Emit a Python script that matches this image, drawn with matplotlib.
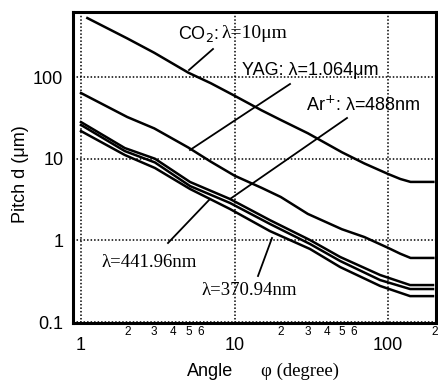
import matplotlib
matplotlib.use("Agg")
import matplotlib.pyplot as plt
from matplotlib.lines import Line2D
from matplotlib.ticker import NullLocator, FixedLocator

# ---------------- data ----------------
co2_angle = [1.1, 2, 3, 5, 7, 10, 15, 20, 30, 50, 70, 100, 120, 140, 197]
co2_pitch = [527, 297, 198, 113, 84, 59, 39.1, 29.8, 20.5, 12.0, 8.75, 6.5, 5.65, 5.2, 5.2]

yag_angle = [1, 2, 3, 5, 7, 10, 15, 20, 30, 50, 70, 100, 120, 140, 197]
yag_pitch = [63.7, 32.4, 23.5, 13.7, 9.2, 6.2, 4.4, 3.4, 2.11, 1.37, 1.10, 0.81, 0.687, 0.61, 0.61]

low_angle = [1, 1.93, 3.03, 5.13, 9.35, 17.0, 31.0, 48.7, 88.7, 139, 196]
ar488_pitch = [28.1, 13.5, 10.0, 5.19, 3.21, 1.77, 1.01, 0.627, 0.377, 0.284, 0.284]
l44196_pitch = [25.9, 12.4, 9.0, 4.63, 2.87, 1.59, 0.904, 0.560, 0.327, 0.254, 0.254]
l37094_pitch = [21.8, 11.1, 7.7, 4.26, 2.42, 1.30, 0.785, 0.472, 0.277, 0.208, 0.208]

x_major = [1, 10, 100]
x_major_labels = ["1", "10", "100"]
x_minor = [2, 3, 4, 5, 6, 20, 30, 40, 50, 60, 200]
x_minor_labels = ["2", "3", "4", "5", "6", "2", "3", "4", "5", "6", "2"]
y_major = [0.1, 1, 10, 100]
y_major_labels = ["0.1", "1", "10", "100"]

# ---------------- figure ----------------
W, H = 439, 381
fig = plt.figure(figsize=(W / 100, H / 100), dpi=100)
ax = fig.add_axes([73 / W, 1 - 323 / H, (436 - 73) / W, (323 - 12) / H])

def P(x, y):
    return (x / W, 1 - y / H)

lw = 1.8
for xs, ys in [(co2_angle, co2_pitch), (yag_angle, yag_pitch),
               (low_angle, ar488_pitch), (low_angle, l44196_pitch),
               (low_angle, l37094_pitch)]:
    ax.plot(xs, ys, color="black", lw=lw, solid_joinstyle="round")

ax.set_xscale("log")
ax.set_yscale("log")
ax.set_xlim(0.887, 205)
ax.set_ylim(0.0975, 625)

sans = "Liberation Sans"
serif = "Liberation Serif"

ax.xaxis.set_major_locator(FixedLocator(x_major))
ax.set_xticklabels(x_major_labels, fontsize=13, family=sans)
ax.xaxis.set_minor_locator(FixedLocator(x_minor))
ax.set_xticklabels(x_minor_labels, minor=True, fontsize=8.5, family=sans)
ax.yaxis.set_major_locator(FixedLocator(y_major))
ax.set_yticklabels(y_major_labels, fontsize=13, family=sans)
ax.yaxis.set_minor_locator(NullLocator())

ax.tick_params(axis="x", which="major", length=0, pad=10)
ax.tick_params(axis="x", which="minor", length=0, pad=2)
ax.tick_params(axis="y", which="major", length=0, pad=7)

ax.grid(True, which="major", color="black", lw=1.1, linestyle=(0, (1, 1.3)))
for s in ax.spines.values():
    s.set_linewidth(2.2)

# axis labels
fig.text(*P(21, 174), "Pitch d (\u03bcm)", rotation=90, ha="center", va="center",
         fontsize=13, family=sans)
fig.text(*P(187, 371), "Angle", ha="left", va="center", fontsize=13, family=sans)
fig.text(*P(261, 371), "\u03c6 (degree)", ha="left", va="center", fontsize=13.5, family=serif)

# annotations
fig.text(*P(178, 38.5), "CO$_2$:", ha="left", va="baseline", fontsize=13, family=sans)
fig.text(*P(222, 38.5), "\u03bb=10\u03bcm", ha="left", va="baseline", fontsize=14, family=serif)
fig.text(*P(242, 75), "YAG: \u03bb=1.064\u03bcm", ha="left", va="baseline", fontsize=13, family=sans)
fig.text(*P(306, 111), "Ar$^{+}$: \u03bb=488nm", ha="left", va="baseline", fontsize=13, family=sans)
fig.text(*P(102, 267), "\u03bb=441.96nm", ha="left", va="baseline", fontsize=13.5, family=serif)
fig.text(*P(202, 295), "\u03bb=370.94nm", ha="left", va="baseline", fontsize=13.5, family=serif)

leaders = [((213, 49), (189, 70)),
           ((290, 84), (190, 150)),
           ((347, 118), (230, 199)),
           ((168, 243), (210, 199)),
           ((258, 276), (272, 238))]
for (x0, y0), (x1, y1) in leaders:
    a, b = P(x0, y0), P(x1, y1)
    fig.add_artist(Line2D([a[0], b[0]], [a[1], b[1]], color="black", lw=1.3,
                          transform=fig.transFigure))

fig.savefig("out.png", dpi=100)
